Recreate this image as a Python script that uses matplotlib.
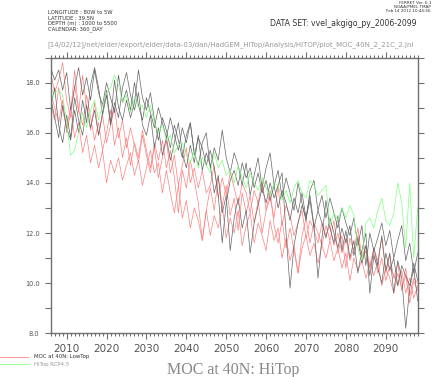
import numpy as np
import matplotlib
matplotlib.use('Agg')
import matplotlib.pyplot as plt
from matplotlib.ticker import MultipleLocator

years = np.arange(2006, 2099)

# LowTop ensemble members (light red)
lowtop_1 = [17.2, 16.5, 17.8, 16.9, 16.2, 17.0, 15.8, 16.4, 15.2, 15.9,
            14.8, 15.5, 14.6, 15.3, 14.0, 14.9, 14.4, 15.0, 14.1, 14.7,
            15.2, 14.3, 14.9, 13.9, 14.6, 15.3, 14.4, 14.8, 13.6, 14.5,
            13.6, 12.8, 13.9, 12.6, 13.3, 12.2, 13.0, 12.5, 11.7, 12.9,
            11.9, 12.7, 12.2, 13.1, 11.8, 12.6, 12.0, 12.9, 11.5, 12.3,
            12.8, 11.6, 12.4, 11.9, 11.3, 12.5, 11.7, 12.2, 11.0, 11.8,
            10.9, 11.5, 10.4, 11.4, 11.9, 11.1, 11.6, 10.8, 11.5, 11.0,
            11.7, 10.9, 11.4, 10.6, 11.2, 10.1, 11.0, 10.5, 10.9, 10.2,
            10.8, 10.3, 10.9, 9.9, 10.6, 10.2, 9.6, 10.4, 9.8, 10.3,
            9.2, 10.1, 9.7]
lowtop_2 = [18.4, 17.6, 18.1, 18.8, 17.3, 16.6, 17.9, 16.8, 18.3, 17.0,
            16.1, 17.2, 15.9, 16.7, 15.6, 16.3, 17.0, 15.8, 16.5, 15.4,
            16.2, 15.5, 14.8, 15.9, 15.1, 14.4, 15.6, 14.9, 15.7, 14.6,
            15.3, 14.2, 12.8, 14.5, 13.8, 14.9, 14.1, 13.2, 11.7, 12.9,
            13.8, 12.9, 14.2, 13.1, 13.9, 12.7, 13.4, 12.1, 13.6, 12.8,
            13.5, 12.4, 13.3, 12.0, 12.9, 13.7, 12.3, 11.6, 12.5, 11.4,
            12.2, 11.3, 10.4, 11.9, 12.6, 11.6, 12.4, 12.0, 11.5, 12.3,
            11.7, 12.5, 11.2, 11.9, 10.6, 11.8, 11.3, 12.2, 11.0, 11.5,
            10.7, 11.4, 10.9, 11.8, 10.4, 11.1, 10.2, 10.8, 9.7, 10.6,
            9.5, 10.2, 10.0]
lowtop_3 = [17.6, 17.0, 16.4, 17.3, 16.0, 16.8, 18.5, 16.9, 16.3, 17.5,
            16.6, 15.7, 16.4, 15.3, 16.0, 16.9, 15.5, 16.2, 15.0, 15.8,
            14.7, 15.6, 15.0, 16.1, 15.3, 14.6, 15.4, 14.2, 15.0, 15.7,
            14.4, 15.1, 13.9, 14.7, 15.4, 14.0, 14.6, 13.8, 14.5, 13.6,
            13.9, 14.7, 13.4, 14.2, 13.5, 14.4, 13.8, 13.1, 14.0, 13.6,
            12.8, 13.7, 13.2, 14.1, 12.9, 13.4, 12.6, 13.9, 12.3, 13.1,
            12.7, 11.9, 12.4, 12.9, 11.8, 12.5, 12.1, 11.6, 12.4, 11.9,
            12.3, 11.5, 12.0, 11.2, 11.8, 10.9, 11.4, 11.9, 10.8, 11.3,
            10.6, 11.2, 10.4, 11.0, 10.1, 10.7, 10.3, 9.9, 10.5, 9.6,
            10.2, 9.4, 9.9]

# HiTop ensemble members (dark grey)
hitop_1 = [18.6, 18.1, 18.5, 17.7, 18.4, 16.9, 17.8, 18.6, 17.5, 18.2,
           17.3, 18.5, 17.6, 17.1, 18.0, 17.4, 16.8, 18.3, 17.2, 17.7,
           16.9, 18.0, 17.1, 16.5, 17.4, 16.8, 16.2, 17.0, 16.4, 15.8,
           16.6, 15.9, 15.3, 16.2, 15.6, 16.4, 15.1, 15.8, 15.4, 14.7,
           15.3, 14.6, 13.5, 11.6, 13.2, 14.1, 14.5, 13.9, 14.8, 14.2,
           14.6, 13.8, 14.4, 13.6, 14.1, 13.3, 13.9, 13.0, 13.7, 13.2,
           12.5, 13.4, 12.8, 13.6, 12.6, 13.3, 12.2, 12.9, 12.4, 11.8,
           12.6, 12.0, 11.4, 12.2, 11.6, 12.3, 11.1, 11.8, 10.8, 11.5,
           10.3, 11.4, 10.7, 11.9, 10.5, 11.2, 9.6, 10.9, 10.2, 8.2,
           9.8, 10.6, 9.3]
hitop_2 = [17.4, 16.6, 15.8, 17.1, 16.2, 15.7, 16.9, 16.0, 17.3, 16.4,
           17.9, 18.6, 17.8, 16.7, 17.5, 16.3, 17.2, 16.6, 17.8, 18.4,
           17.5, 16.9, 17.6, 16.3, 15.9, 16.7, 15.4, 16.2, 15.1, 15.8,
           14.9, 15.6, 16.4, 15.2, 14.6, 15.5, 14.8, 15.9, 14.5, 15.2,
           14.7, 13.6, 14.3, 12.8, 13.5, 11.3, 12.6, 13.4, 12.2, 12.9,
           11.2, 12.4, 13.1, 13.8, 13.2, 14.0, 13.4, 13.9, 14.4, 12.0,
           9.8, 11.5, 12.4, 13.1, 12.6, 13.5, 12.3, 10.2, 11.8, 13.3,
           12.2, 11.6, 12.7, 11.3, 12.1, 11.0, 11.7, 10.4, 11.3, 12.0,
           9.6, 11.1, 10.6, 10.0, 11.2, 10.5, 11.0, 9.9, 10.7, 10.3,
           9.9, 10.8, 10.1]
hitop_3 = [17.0, 17.8, 16.3, 15.6, 16.7, 15.8, 17.4, 16.5, 15.9, 17.1,
           16.2, 16.9, 15.9, 16.8, 17.7, 16.4, 18.1, 17.0, 16.5, 17.3,
           16.6, 17.2, 18.5, 17.4, 16.9, 17.6, 16.5, 15.7, 16.6, 16.1,
           15.4, 16.3, 15.7, 15.0, 15.9, 16.4, 15.2, 14.7, 15.6, 16.0,
           14.6, 15.4, 14.9, 16.1, 15.0, 14.4, 15.2, 14.7, 13.9, 14.8,
           13.5, 14.3, 15.0, 13.8, 14.6, 15.2, 13.9, 14.5, 13.4, 14.2,
           13.6, 12.9, 14.0, 13.2, 12.5, 13.7, 14.1, 12.9, 13.5, 12.6,
           13.4, 12.8, 12.2, 13.0, 12.4, 11.9, 12.6, 11.5, 12.3, 10.7,
           12.0, 11.3, 11.8, 12.4, 11.5, 12.1, 11.0, 11.7, 12.3, 10.9,
           11.6, 10.4, 11.2]

# HiTop RCP4.5 (light green)
hitop_rcp45 = [17.2, 17.6, 17.7, 17.5, 16.4, 15.1, 15.3, 16.0, 16.8, 16.2,
               16.9, 17.3, 16.5, 17.1, 17.6, 17.8, 18.3, 17.9, 17.2, 17.5,
               16.8, 17.4, 17.0, 17.1, 16.6, 17.1, 16.4, 16.0, 16.3, 15.7,
               15.9, 15.2, 15.5, 15.6, 15.1, 14.8, 15.3, 14.6, 15.0, 14.7,
               14.4, 15.2, 14.6, 14.9, 14.3, 14.5, 14.0, 14.7, 14.2, 13.8,
               14.4, 14.0, 13.7, 14.2, 13.8, 13.5, 14.0, 13.9, 13.3, 13.7,
               13.2, 13.8, 14.1, 13.6, 13.4, 14.1, 13.9, 13.5, 13.7, 13.9,
               12.3, 12.8, 12.5, 13.0, 12.6, 13.1, 12.7, 11.4, 10.9, 12.4,
               12.6, 12.2, 12.9, 13.4, 12.5, 12.3, 12.8, 14.0, 13.2, 11.4,
               14.0, 11.0, 13.0]

header_left = ['LONGITUDE : 80W to 5W', 'LATITUDE : 39.5N',
               'DEPTH (m) : 1000 to 5500', 'CALENDAR: 360_DAY']
header_right = ['FERRET Ver. 6.1', 'NOAA/PMEL TMAP', 'Feb 14 2012 10:44:56']
dataset = 'DATA SET: vvel_akgigo_py_2006-2099'
jnl_path = '[14/02/12]/net/elder/export/elder/data-03/dan/HadGEM_HiTop/Analysis/HiTOP/plot_MOC_40N_2_21C_2.jnl'
title = 'MOC at 40N: HiTop'
legend_labels = ['MOC at 40N: LowTop', 'HiTop RCP4.5']

W, H = 441, 377
red = '#ff8080'
grey = '#666666'
green = '#80ff80'
axcol = '#707070'

def px(x, y):
    # pixel coords (from top-left) -> figure fraction
    return x / W, 1 - y / H

fig = plt.figure(figsize=(W / 100, H / 100), dpi=100)
l, b = px(50.7, 333.3)
r, t = px(417.7, 57.5)
ax = fig.add_axes([l, b, r - l, t - b])

for s in [lowtop_1, lowtop_2, lowtop_3]:
    ax.plot(years, s, color=red, lw=0.5)
for s in [hitop_1, hitop_2, hitop_3]:
    ax.plot(years, s, color=grey, lw=0.5)
ax.plot(years, hitop_rcp45, color=green, lw=0.5)

ax.set_xlim(2006, 2098)
ax.set_ylim(8, 19)
ax.xaxis.set_major_locator(MultipleLocator(10))
ax.xaxis.set_minor_locator(MultipleLocator(1))
ax.yaxis.set_major_locator(MultipleLocator(2))
ax.yaxis.set_minor_locator(MultipleLocator(1))
ax.yaxis.set_major_formatter(matplotlib.ticker.FormatStrFormatter('%.1f'))

ax.tick_params(which='both', direction='out', color=axcol, width=0.8,
               top=True, right=True, labeltop=False, labelright=False)
ax.tick_params(which='major', length=4.5)
ax.tick_params(which='minor', length=2.2)
ax.tick_params(axis='x', which='major', labelsize=7.5, pad=3, labelcolor='#555555')
ax.tick_params(axis='y', which='major', labelsize=4.8, pad=3.5, labelcolor='#555555')
ax.tick_params(axis='y', which='minor', right=True, length=4)
for sp in ax.spines.values():
    sp.set_color(axcol)
    sp.set_linewidth(1.0)

# header block
for i, s in enumerate(header_left):
    fig.text(*px(48, 12.5 + i * 5.6), s, fontsize=3.8, color='#333333', va='center')
for i, s in enumerate(header_right):
    fig.text(*px(431, 2.5 + i * 4.2), s, fontsize=3.0, color='#333333', va='center', ha='right')
fig.text(*px(417, 23), dataset, fontsize=5.6, color='#333333', va='center', ha='right')
fig.text(*px(231, 44.3), jnl_path, fontsize=5.0, color='#999999', va='center', ha='center')

# legend at bottom left
fig.add_artist(plt.Line2D([0, 28 / W], [1 - 356.7 / H] * 2, color=red, lw=0.6))
fig.text(*px(34, 356.7), legend_labels[0], fontsize=3.9, color='#333333', va='center')
fig.add_artist(plt.Line2D([0, 28 / W], [1 - 364.3 / H] * 2, color=green, lw=0.6))
fig.text(*px(34, 364.3), legend_labels[1], fontsize=3.9, color='#999999', va='center')

fig.text(*px(233.5, 369.5), title, fontsize=11.5, color='#888888', va='center',
         ha='center', family='Liberation Serif')

plt.savefig('out.png', dpi=100)
